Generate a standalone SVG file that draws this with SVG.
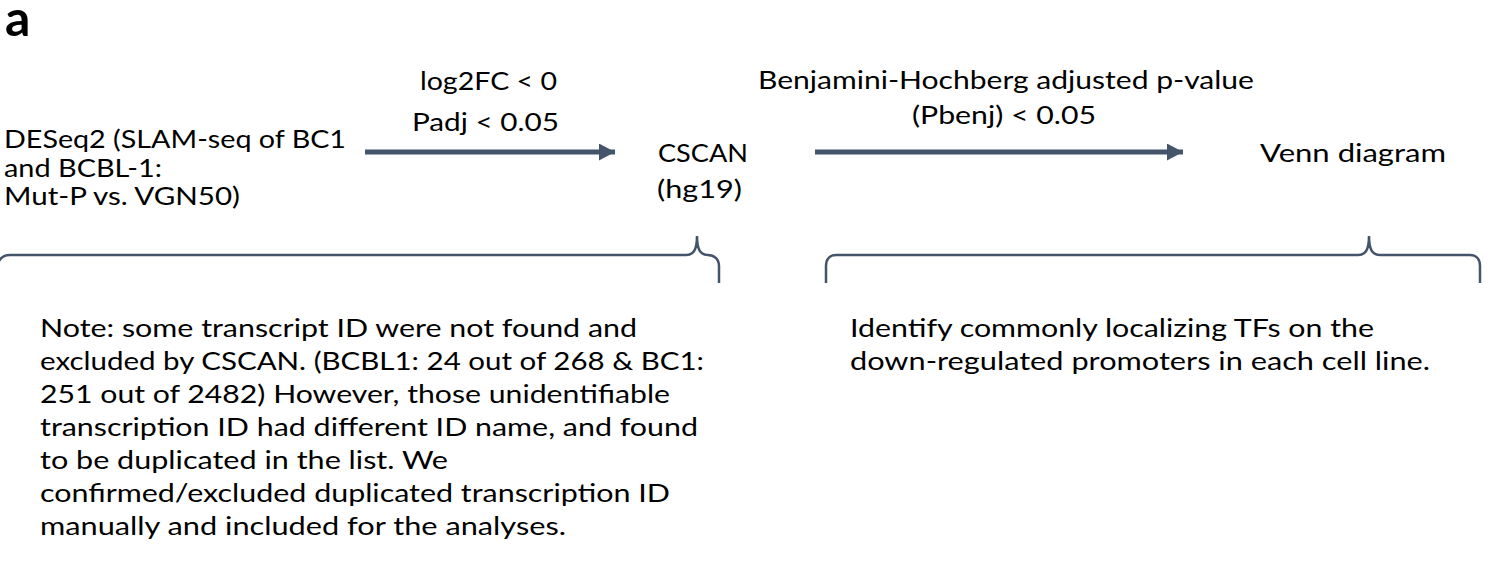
<svg xmlns="http://www.w3.org/2000/svg" width="1492" height="563" viewBox="0 0 1492 563">
<style>
  .t { font-family: "Lato", "Open Sans", sans-serif; font-size: 24.5px; fill: #000; }
  .h { font-family: "Lato", "Open Sans", sans-serif; font-size: 50px; font-weight: bold; fill: #000; }
  .arrow { stroke: #44546A; stroke-width: 5; fill: none; }
  .brace { stroke: #44546A; stroke-width: 2.5; fill: none; }
</style>
<defs>
  <marker id="ah" markerUnits="userSpaceOnUse" markerWidth="18" markerHeight="18" refX="16" refY="8.5" orient="auto">
    <path d="M0,0 L16,8.5 L0,17 Z" fill="#44546A"/>
  </marker>
</defs>
<rect width="1492" height="563" fill="#fff"/>
<text class="h" x="5" y="36">a</text>

<g id="node-deseq">
  <text class="t" x="4" y="148" textLength="342" lengthAdjust="spacingAndGlyphs">DESeq2 (SLAM-seq of BC1</text>
  <text class="t" x="4" y="177" textLength="158" lengthAdjust="spacingAndGlyphs">and BCBL-1:</text>
  <text class="t" x="4" y="205" textLength="236" lengthAdjust="spacingAndGlyphs">Mut-P vs. VGN50)</text>
</g>
<g id="node-cscan">
  <text class="t" x="658" y="162" textLength="90" lengthAdjust="spacingAndGlyphs">CSCAN</text>
  <text class="t" x="657" y="198" textLength="85" lengthAdjust="spacingAndGlyphs">(hg19)</text>
</g>
<g id="node-venn">
  <text class="t" x="1260" y="162" textLength="186" lengthAdjust="spacingAndGlyphs">Venn diagram</text>
</g>

<g id="connectors">
  <line class="arrow" x1="365" y1="152" x2="615" y2="152" marker-end="url(#ah)"/>
  <line class="arrow" x1="815" y1="152" x2="1183" y2="152" marker-end="url(#ah)"/>
  <text class="t" x="420" y="90" textLength="137" lengthAdjust="spacingAndGlyphs">log2FC &lt; 0</text>
  <text class="t" x="412" y="131" textLength="147" lengthAdjust="spacingAndGlyphs">Padj &lt; 0.05</text>
  <text class="t" x="758" y="89" textLength="496" lengthAdjust="spacingAndGlyphs">Benjamini-Hochberg adjusted p-value</text>
  <text class="t" x="912" y="124" textLength="184" lengthAdjust="spacingAndGlyphs">(Pbenj) &lt; 0.05</text>
</g>

<g id="brace-left">
  <path class="brace" d="M-4,278 C-4,262 0,255 10,255 L686,255 C694,255 697,249 697,236 C697,249 700,255 708,255 C714,255 719,259 719,266 L719,283"/>
  <text class="t" x="40" y="337" textLength="597" lengthAdjust="spacingAndGlyphs">Note: some transcript ID were not found and</text>
  <text class="t" x="40" y="370" textLength="664" lengthAdjust="spacingAndGlyphs">excluded by CSCAN. (BCBL1: 24 out of 268  &amp; BC1:</text>
  <text class="t" x="40" y="403" textLength="630" lengthAdjust="spacingAndGlyphs">251 out of 2482) However, those unidentifiable</text>
  <text class="t" x="40" y="436" textLength="658" lengthAdjust="spacingAndGlyphs">transcription ID had different ID name, and found</text>
  <text class="t" x="40" y="469" textLength="408" lengthAdjust="spacingAndGlyphs">to be duplicated in the list. We</text>
  <text class="t" x="40" y="502" textLength="630" lengthAdjust="spacingAndGlyphs">confirmed/excluded duplicated transcription ID</text>
  <text class="t" x="40" y="535" textLength="526" lengthAdjust="spacingAndGlyphs">manually and included for the analyses.</text>
</g>

<g id="brace-right">
  <path class="brace" d="M826,283 L826,266 C826,259 830,255 836,255 L1358,255 C1366,255 1369,249 1369,236 C1369,249 1372,255 1380,255 L1470,255 C1476,255 1480,259 1480,266 L1480,283"/>
  <text class="t" x="850" y="337" textLength="524" lengthAdjust="spacingAndGlyphs">Identify commonly localizing TFs on the</text>
  <text class="t" x="850" y="370" textLength="580" lengthAdjust="spacingAndGlyphs">down-regulated promoters in each cell line.</text>
</g>
</svg>
